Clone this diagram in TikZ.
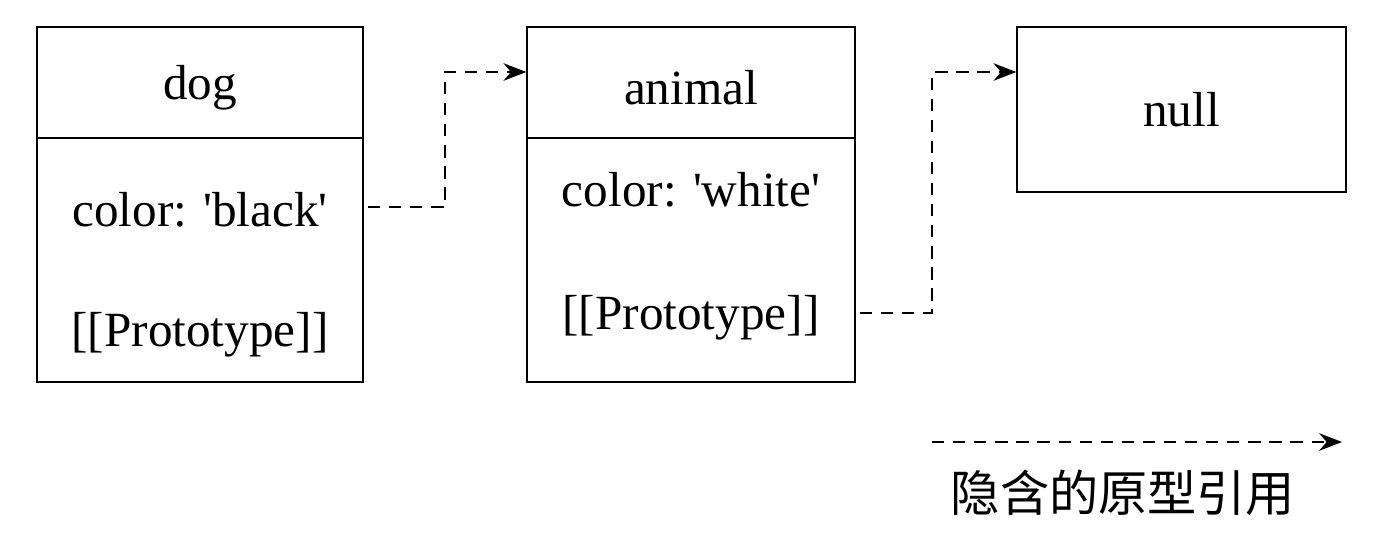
\documentclass[tikz,border=0pt]{standalone}
\usepackage{fontspec}
\setmainfont{Liberation Serif}[Ligatures=TeXOff]
\newfontfamily\cjk{Noto Sans CJK SC}
\usetikzlibrary{arrows.meta}

\begin{document}
\begin{tikzpicture}[x=0.02cm,y=-0.02cm,
    box/.style={draw,thick,minimum width=6.52cm,inner sep=0pt},
    txt/.style={font=\fontsize{28}{32}\selectfont},
    link/.style={thick,dash pattern=on 7pt off 5pt,-{Stealth[length=13pt,width=10pt]}}]
    \useasboundingbox (0,0) rectangle (1380,542);

    % dog object
    \node[box,minimum height=2.22cm] (doghead) at (200,82.5) {};
    \node[txt] (dogname) at (200,88) {dog};
    \node[box,minimum height=4.88cm] (dogbody) at (200,260) {};
    \node[txt] (dogcolor) at (200,210) {color: 'black'};
    \node[txt] (dogproto) at (200,335) {[[Prototype]]};

    % animal object
    \node[box,minimum width=6.56cm,minimum height=2.22cm] (animalhead) at (691,82.5) {};
    \node[txt] (animalname) at (691,88) {animal};
    \node[box,minimum width=6.56cm,minimum height=4.88cm] (animalbody) at (691,260) {};
    \node[txt] (animalcolor) at (691,190) {color: 'white'};
    \node[txt] (animalproto) at (691,318) {[[Prototype]]};

    % end of the chain
    \node[box,minimum width=6.58cm,minimum height=3.3cm,txt] (null) at (1181.5,109.5) {null};

    % prototype links
    \coordinate (a1) at (368,207);
    \coordinate (a2) at (445,72);
    \coordinate (b1) at (860,313);
    \coordinate (b2) at (932,72);
    \draw[link] (a1) -| (a2) -- (a2 -| animalhead.west);
    \draw[link] (b1) -| (b2) -- (b2 -| null.west);

    % legend
    \coordinate (l1) at (932,442);
    \coordinate (l2) at (1342,442);
    \draw[link] (l1) -- (l2);
    \node[font=\cjk\fontsize{28}{32}\selectfont] (legend) at (1123,493) {隐含的原型引用};
\end{tikzpicture}
\end{document}
